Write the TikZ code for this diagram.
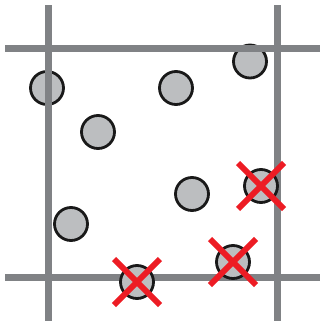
\documentclass[tikz,border=0pt]{standalone}
\definecolor{axisgray}{HTML}{808285}
\definecolor{ballfill}{HTML}{BCBEC0}
\definecolor{xred}{HTML}{ED1C24}
\tikzset{
  gridline/.style={draw=axisgray, line width=7pt},
  ball/.style={circle, draw=black!90, line width=2.8pt, fill=ballfill, minimum size=33pt, inner sep=0pt},
  xmark/.style={draw=xred, line width=6pt}
}
\begin{document}
\begin{tikzpicture}[x=1pt,y=-1pt]
\useasboundingbox (0,0) rectangle (320,324);
% balls under the grid lines
\node[ball] (c1) at (47,88) {};
\node[ball] (c2) at (98,132) {};
\node[ball] (c3) at (176,88) {};
\node[ball] (c4) at (250,61.5) {};
\node[ball] (c5) at (71,224) {};
\node[ball] (c7) at (192,194) {};
% grid lines
\coordinate (vl1) at (48,5); \coordinate (vl2) at (48,321);
\coordinate (vr1) at (277,5); \coordinate (vr2) at (277,321);
\coordinate (ht1) at (5,48.5); \coordinate (ht2) at (320,48.5);
\coordinate (hb1) at (5,277); \coordinate (hb2) at (320,277);
\draw[gridline] (vl1) -- (vl2);
\draw[gridline] (vr1) -- (vr2);
\draw[gridline] (ht1) -- (ht2);
\draw[gridline] (hb1) -- (hb2);
% crossed balls on top
\node[ball] (c6) at (137,282) {};
\node[ball] (c8) at (261,186) {};
\node[ball] (c9) at (233,262) {};
% crosses
\foreach \c in {c6,c8,c9}{
  \draw[xmark] ([shift={(-23,-23)}]\c.center) -- ([shift={(23,23)}]\c.center);
  \draw[xmark] ([shift={(-23,23)}]\c.center) -- ([shift={(23,-23)}]\c.center);
}
\end{tikzpicture}
\end{document}
